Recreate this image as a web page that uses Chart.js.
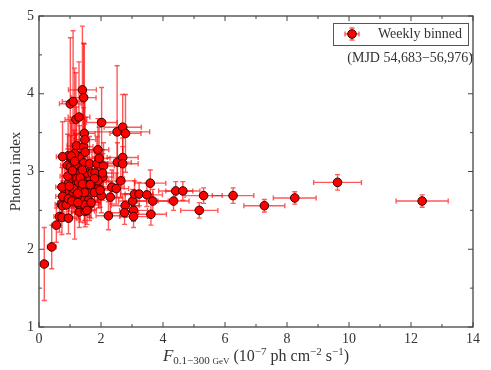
<!DOCTYPE html>
<html><head><meta charset="utf-8">
<script src="https://cdn.jsdelivr.net/npm/chart.js@4/dist/chart.umd.min.js"></script>
<style>html,body{margin:0;padding:0;background:#fff;}</style>
</head><body>
<canvas id="c" width="491" height="370"></canvas>
<script>
// ---- data ----
const flux = [0.17,0.41,0.56,0.66,0.74,0.72,0.76,0.76,0.88,0.95,0.98,0.95,0.93,0.92,0.94,1.06,1.21,1.31,1.44,1.49,
  1.44,1.63,1.35,1.55,1.71,1.87,1.90,1.94,2.08,2.06,1.87,1.92,1.79,2.01,1.60,1.39,1.22,1.10,1.24,1.44,
  1.63,1.63,1.33,1.30,1.49,2.24,2.30,2.35,2.49,2.64,2.53,2.70,2.70,2.78,2.76,3.02,3.08,3.23,3.05,3.05,
  3.48,3.59,3.67,3.61,4.34,4.41,4.64,5.17,5.31,6.26,7.27,8.25,9.63,12.36,
  1.40,1.44,1.01,1.10,1.19,1.29,2.02,1.46,1.48,2.52,2.70,2.79,1.15,1.01,1.20,1.31,1.20,1.81,0.76,1.04,
  1.17,1.08,1.22,1.90,1.28,0.74,1.11,1.47,0.95,1.22,1.60,1.28,1.47,1.15,1.40,2.05,1.33,1.79,0.98,1.40,
  1.65,1.25,1.97,1.06,1.25,1.68,1.55];
const fluxErr = [0.12,0.14,0.15,0.18,0.17,0.20,0.22,0.20,0.22,0.25,0.25,0.22,0.25,0.22,0.20,0.25,0.30,0.25,0.30,0.30,
  0.30,0.30,0.30,0.30,0.30,0.35,0.35,0.35,0.35,0.35,0.30,0.30,0.30,0.35,0.30,0.30,0.25,0.25,0.25,0.28,
  0.30,0.30,0.28,0.25,0.30,0.40,0.40,0.40,0.40,0.45,0.45,0.50,0.50,0.45,0.45,0.45,0.45,0.45,0.45,0.45,
  0.50,0.50,0.50,0.50,0.50,0.55,0.55,0.60,0.60,0.67,0.66,0.69,0.77,0.84,
  0.45,0.40,0.35,0.35,0.35,0.35,0.50,0.35,0.35,1.05,0.60,0.50,0.25,0.25,0.28,0.28,0.28,0.30,0.20,0.25,
  0.25,0.25,0.28,0.35,0.28,0.20,0.25,0.30,0.22,0.25,0.30,0.25,0.30,0.25,0.30,0.35,0.28,0.30,0.22,0.30,
  0.30,0.28,0.35,0.25,0.28,0.30,0.30];
const photonIndex = [1.81,2.03,2.31,2.42,2.41,2.58,2.68,2.56,2.57,2.40,2.74,2.85,2.94,3.08,3.20,3.17,3.33,3.19,3.32,3.25,
  3.11,3.10,3.00,2.98,2.98,3.10,3.28,3.17,3.07,2.93,2.86,2.78,2.73,2.69,2.83,2.89,2.85,2.72,2.71,2.64,
  2.61,2.57,2.55,2.48,2.49,2.43,2.67,2.80,2.78,2.88,3.12,3.18,3.10,2.56,2.47,2.62,2.71,2.71,2.50,2.42,
  2.70,2.85,2.62,2.45,2.62,2.75,2.75,2.50,2.69,2.69,2.56,2.66,2.86,2.62,
  4.05,3.95,3.87,3.90,3.67,3.70,3.63,3.49,3.41,3.51,3.57,3.49,3.23,3.06,3.08,3.04,2.98,2.98,3.19,3.20,
  3.09,3.01,2.91,2.88,2.86,2.80,2.78,2.73,2.65,2.67,2.63,2.58,2.57,3.13,3.02,2.98,2.92,2.91,2.81,2.84,
  2.83,2.72,2.76,2.62,2.60,2.60,2.50];
const indexErr = [0.47,0.28,0.22,0.20,0.22,0.18,0.20,0.20,0.18,0.20,0.25,0.30,0.35,0.40,0.45,0.45,0.50,0.40,0.50,0.45,
  0.35,0.35,0.30,0.30,0.30,0.35,0.40,0.40,0.30,0.30,0.25,0.25,0.22,0.22,0.25,0.28,0.28,0.25,0.22,0.20,
  0.20,0.20,0.20,0.20,0.20,0.18,0.20,0.22,0.20,0.22,0.25,0.25,0.22,0.15,0.15,0.15,0.17,0.15,0.14,0.14,
  0.15,0.17,0.15,0.14,0.12,0.12,0.12,0.10,0.10,0.10,0.08,0.08,0.10,0.08,
  0.82,0.70,0.85,0.91,0.60,0.71,0.45,1.15,0.60,0.85,0.42,0.50,1.10,0.40,0.40,0.35,0.32,0.30,0.45,0.45,
  0.38,0.35,0.30,0.28,0.28,0.25,0.25,0.22,0.22,0.22,0.20,0.20,0.20,0.40,0.32,0.30,0.30,0.28,0.28,0.26,
  0.25,0.22,0.22,0.20,0.20,0.20,0.18];
const xMajorTicks = [0,2,4,6,8,10,12,14];
const xMinorTicks = [1,3,5,7,9,11,13];
const yMajorTicks = [1,2,3,4,5];
const yMinorTicks = [1.5,2.5,3.5,4.5];
const legendLabel = 'Weekly binned';
const noteText = '(MJD 54,683\u221256,976)';
const yTitle = 'Photon index';

const SERIF = '"Liberation Serif", "DejaVu Serif", serif';
const FRAME = '#444';
const ERR = 'rgba(255,0,0,0.65)';

function drawErrorBar(ctx, cx, cy, x0, x1, y0, y1, cap) {
  ctx.beginPath();
  ctx.moveTo(x0, cy); ctx.lineTo(x1, cy);
  ctx.moveTo(x0, cy - cap); ctx.lineTo(x0, cy + cap);
  ctx.moveTo(x1, cy - cap); ctx.lineTo(x1, cy + cap);
  ctx.moveTo(cx, y0); ctx.lineTo(cx, y1);
  ctx.moveTo(cx - cap, y0); ctx.lineTo(cx + cap, y0);
  ctx.moveTo(cx - cap, y1); ctx.lineTo(cx + cap, y1);
  ctx.stroke();
}

const errorBarPlugin = {
  id: 'errorBars',
  beforeDatasetsDraw(chart) {
    const ctx = chart.ctx, xs = chart.scales.x, ys = chart.scales.y;
    ctx.save();
    ctx.strokeStyle = ERR; ctx.lineWidth = 1.4;
    for (let i = 0; i < flux.length; i++) {
      const cx = xs.getPixelForValue(flux[i]);
      const cy = ys.getPixelForValue(photonIndex[i]);
      drawErrorBar(ctx, cx, cy,
        xs.getPixelForValue(flux[i] - fluxErr[i]), xs.getPixelForValue(flux[i] + fluxErr[i]),
        ys.getPixelForValue(photonIndex[i] + indexErr[i]), ys.getPixelForValue(photonIndex[i] - indexErr[i]), 2.5);
    }
    ctx.restore();
  }
};

function richText(ctx, parts, cx, baseline) {
  let w = 0;
  parts.forEach(p => { ctx.font = p.font; p.w = ctx.measureText(p.t).width; w += p.w; });
  let x = cx - w / 2;
  ctx.textAlign = 'left'; ctx.textBaseline = 'alphabetic';
  parts.forEach(p => { ctx.font = p.font; ctx.fillText(p.t, x, baseline + (p.dy || 0)); x += p.w; });
}

const framePlugin = {
  id: 'frame',
  afterDraw(chart) {
    const ctx = chart.ctx, a = chart.chartArea, xs = chart.scales.x, ys = chart.scales.y;
    ctx.save();
    ctx.strokeStyle = FRAME; ctx.lineWidth = 1.3;
    ctx.strokeRect(a.left, a.top, a.right - a.left, a.bottom - a.top);
    ctx.lineWidth = 1;
    ctx.beginPath();
    const tx = (v, len) => { const p = xs.getPixelForValue(v);
      ctx.moveTo(p, a.bottom); ctx.lineTo(p, a.bottom - len);
      ctx.moveTo(p, a.top); ctx.lineTo(p, a.top + len); };
    const ty = (v, len) => { const p = ys.getPixelForValue(v);
      ctx.moveTo(a.left, p); ctx.lineTo(a.left + len, p);
      ctx.moveTo(a.right, p); ctx.lineTo(a.right - len, p); };
    xMajorTicks.forEach(v => tx(v, 5)); xMinorTicks.forEach(v => tx(v, 3));
    yMajorTicks.forEach(v => ty(v, 5)); yMinorTicks.forEach(v => ty(v, 3));
    ctx.stroke();

    // legend
    ctx.fillStyle = '#fff'; ctx.strokeStyle = '#555'; ctx.lineWidth = 1;
    ctx.fillRect(333.5, 23.5, 135, 22); ctx.strokeRect(333.5, 23.5, 135, 22);
    ctx.strokeStyle = ERR; ctx.lineWidth = 1.4;
    drawErrorBar(ctx, 352, 34, 345, 359, 28, 40, 2.5);
    ctx.beginPath(); ctx.arc(352, 34, 4.3, 0, Math.PI * 2);
    ctx.fillStyle = '#ff0000'; ctx.fill(); ctx.strokeStyle = '#330000'; ctx.lineWidth = 1; ctx.stroke();
    ctx.fillStyle = '#333';
    ctx.font = '14px ' + SERIF; ctx.textAlign = 'left'; ctx.textBaseline = 'middle';
    ctx.fillText(legendLabel, 378, 34.5);
    ctx.font = '14px ' + SERIF; ctx.textAlign = 'right';
    ctx.fillText(noteText, 473, 58);

    // y title
    ctx.save();
    ctx.translate(16, (a.top + a.bottom) / 2);
    ctx.rotate(-Math.PI / 2);
    ctx.font = '15px ' + SERIF; ctx.textAlign = 'center'; ctx.textBaseline = 'middle';
    ctx.fillText(yTitle, 0, 0);
    ctx.restore();

    // x title
    const big = '16px ' + SERIF, sub = '11px ' + SERIF, tiny = '9px ' + SERIF;
    richText(ctx, [
      { t: 'F', font: 'italic 17px ' + SERIF },
      { t: '0.1\u2212300 ', font: sub, dy: 3 },
      { t: 'GeV', font: tiny, dy: 3 },
      { t: ' (10', font: big },
      { t: '\u22127', font: sub, dy: -6 },
      { t: ' ph cm', font: big },
      { t: '\u22122', font: sub, dy: -6 },
      { t: ' s', font: big },
      { t: '\u22121', font: sub, dy: -6 },
      { t: ')', font: big }
    ], (a.left + a.right) / 2, 361);
    ctx.restore();
  }
};

new Chart(document.getElementById('c'), {
  type: 'scatter',
  data: {
    datasets: [{
      label: legendLabel,
      data: flux.map((v, i) => ({ x: v, y: photonIndex[i] })),
      pointRadius: 4.3, pointHoverRadius: 4.3,
      pointBackgroundColor: '#ff0000', pointBorderColor: '#330000', pointBorderWidth: 1
    }]
  },
  options: {
    responsive: false, animation: false, devicePixelRatio: 1,
    layout: { padding: { top: 16, right: 18, left: 0, bottom: 0 } },
    plugins: { legend: { display: false }, tooltip: { enabled: false } },
    scales: {
      x: {
        type: 'linear', min: 0, max: 14,
        grid: { display: false, drawTicks: false }, border: { display: false },
        ticks: { stepSize: 2, padding: 4, maxRotation: 0, color: '#333', font: { family: SERIF, size: 14 } },
        afterFit(s) { s.height = 43; }
      },
      y: {
        type: 'linear', min: 1, max: 5,
        grid: { display: false, drawTicks: false }, border: { display: false },
        ticks: { stepSize: 1, padding: 5, color: '#333', font: { family: SERIF, size: 14 } },
        afterFit(s) { s.width = 39; }
      }
    }
  },
  plugins: [errorBarPlugin, framePlugin]
});
</script>
</body></html>
